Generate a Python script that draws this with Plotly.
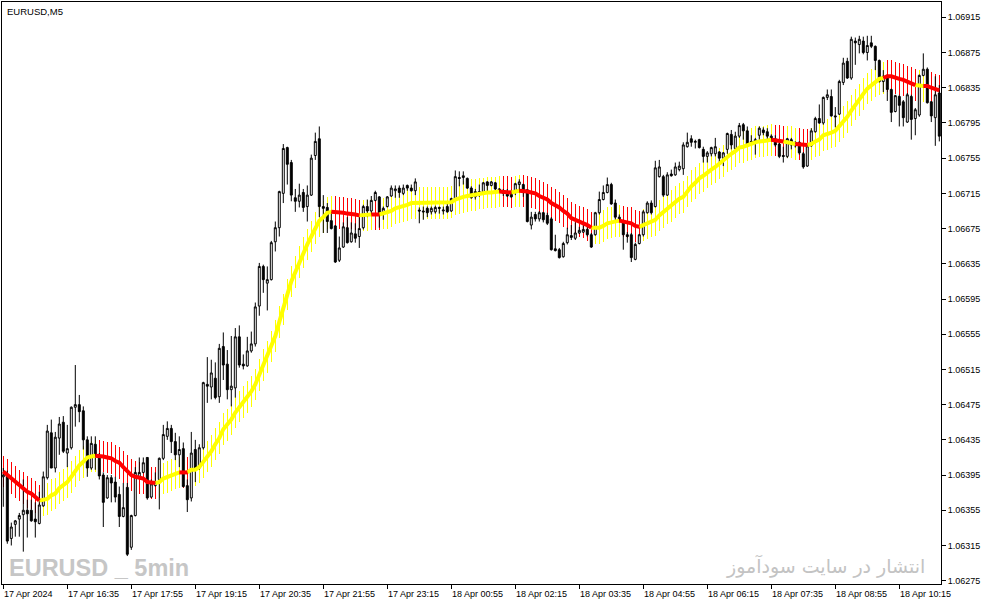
import plotly.graph_objects as go

# ---------------- data ----------------
time_labels = ["17 Apr 2024", "17 Apr 16:35", "17 Apr 17:55", "17 Apr 19:15", "17 Apr 20:35",
               "17 Apr 21:55", "17 Apr 23:15", "18 Apr 00:55", "18 Apr 02:15", "18 Apr 03:35",
               "18 Apr 04:55", "18 Apr 06:15", "18 Apr 07:35", "18 Apr 08:55", "18 Apr 10:15"]
label_bars = [0, 16, 32, 48, 64, 80, 96, 112, 128, 144, 160, 176, 192, 208, 224]

price_ticks = [1.06275, 1.06315, 1.06355, 1.06395, 1.06435, 1.06475, 1.06515, 1.06555, 1.06595,
               1.06635, 1.06675, 1.06715, 1.06755, 1.06795, 1.06835, 1.06875, 1.06915]

opens = [
    1.06393, 1.06395, 1.06323, 1.06339, 1.06345, 1.06350, 1.06355, 1.06355, 1.06345, 1.06340,
    1.06360, 1.06392, 1.06443, 1.06403, 1.06437, 1.06455, 1.06420, 1.06426, 1.06472, 1.06475,
    1.06468, 1.06435, 1.06403, 1.06430, 1.06416, 1.06395, 1.06369, 1.06392, 1.06387, 1.06373,
    1.06348, 1.06381, 1.06313, 1.06349, 1.06393, 1.06398, 1.06415, 1.06370, 1.06383, 1.06390,
    1.06414, 1.06439, 1.06448, 1.06433, 1.06418, 1.06425, 1.06383, 1.06369, 1.06424, 1.06403,
    1.06426, 1.06498, 1.06495, 1.06505, 1.06484, 1.06541, 1.06521, 1.06492, 1.06494, 1.06552,
    1.06521, 1.06519, 1.06536, 1.06544, 1.06587, 1.06632, 1.06613, 1.06617, 1.06660, 1.06676,
    1.06715, 1.06767, 1.06750, 1.06710, 1.06706, 1.06716, 1.06700, 1.06713, 1.06758, 1.06777,
    1.06700, 1.06699, 1.06684, 1.06678, 1.06639, 1.06654, 1.06676, 1.06660, 1.06669, 1.06666,
    1.06676, 1.06700, 1.06695, 1.06707, 1.06711, 1.06693, 1.06700, 1.06712, 1.06718, 1.06721,
    1.06715, 1.06724, 1.06721, 1.06718, 1.06696, 1.06695, 1.06698, 1.06694, 1.06694, 1.06699,
    1.06695, 1.06700, 1.06695, 1.06709, 1.06733, 1.06733, 1.06732, 1.06721, 1.06711, 1.06715,
    1.06716, 1.06728, 1.06724, 1.06727, 1.06720, 1.06715, 1.06717, 1.06717, 1.06716, 1.06725,
    1.06725, 1.06719, 1.06679, 1.06691, 1.06686, 1.06693, 1.06690, 1.06686, 1.06652, 1.06651,
    1.06643, 1.06659, 1.06667, 1.06664, 1.06670, 1.06671, 1.06674, 1.06668, 1.06668, 1.06693,
    1.06708, 1.06716, 1.06725, 1.06704, 1.06688, 1.06683, 1.06668, 1.06668, 1.06640, 1.06658,
    1.06668, 1.06693, 1.06704, 1.06700, 1.06734, 1.06734, 1.06713, 1.06737, 1.06736, 1.06742,
    1.06743, 1.06768, 1.06777, 1.06773, 1.06776, 1.06765, 1.06757, 1.06760, 1.06760, 1.06762,
    1.06755, 1.06765, 1.06782, 1.06766, 1.06780, 1.06793, 1.06786, 1.06774, 1.06773, 1.06781,
    1.06787, 1.06785, 1.06780, 1.06777, 1.06771, 1.06758, 1.06757, 1.06776, 1.06769, 1.06773,
    1.06760, 1.06746, 1.06769, 1.06785, 1.06800, 1.06795, 1.06824, 1.06825, 1.06803, 1.06805,
    1.06841, 1.06865, 1.06846, 1.06888, 1.06884, 1.06888, 1.06875, 1.06886, 1.06882, 1.06866,
    1.06842, 1.06849, 1.06833, 1.06808, 1.06825, 1.06819, 1.06796, 1.06825, 1.06800, 1.06804,
    1.06849, 1.06856, 1.06819, 1.06801, 1.06829]

highs = [
    1.06403, 1.06400, 1.06341, 1.06344, 1.06352, 1.06390, 1.06367, 1.06367, 1.06364, 1.06376,
    1.06399, 1.06452, 1.06458, 1.06444, 1.06461, 1.06462, 1.06452, 1.06473, 1.06520, 1.06486,
    1.06473, 1.06439, 1.06439, 1.06439, 1.06420, 1.06398, 1.06395, 1.06395, 1.06393, 1.06382,
    1.06386, 1.06386, 1.06350, 1.06404, 1.06415, 1.06415, 1.06415, 1.06390, 1.06398, 1.06415,
    1.06452, 1.06456, 1.06452, 1.06443, 1.06439, 1.06432, 1.06390, 1.06444, 1.06435, 1.06430,
    1.06501, 1.06529, 1.06526, 1.06523, 1.06544, 1.06557, 1.06537, 1.06553, 1.06562, 1.06565,
    1.06532, 1.06552, 1.06558, 1.06591, 1.06636, 1.06634, 1.06632, 1.06661, 1.06683, 1.06718,
    1.06771, 1.06768, 1.06753, 1.06720, 1.06726, 1.06720, 1.06724, 1.06759, 1.06784, 1.06791,
    1.06713, 1.06704, 1.06694, 1.06679, 1.06666, 1.06682, 1.06688, 1.06682, 1.06681, 1.06688,
    1.06702, 1.06708, 1.06712, 1.06718, 1.06712, 1.06700, 1.06712, 1.06724, 1.06724, 1.06724,
    1.06725, 1.06725, 1.06725, 1.06732, 1.06699, 1.06700, 1.06700, 1.06700, 1.06701, 1.06700,
    1.06700, 1.06704, 1.06710, 1.06741, 1.06740, 1.06740, 1.06733, 1.06723, 1.06720, 1.06725,
    1.06728, 1.06729, 1.06729, 1.06728, 1.06721, 1.06720, 1.06720, 1.06719, 1.06727, 1.06731,
    1.06726, 1.06720, 1.06694, 1.06694, 1.06695, 1.06694, 1.06693, 1.06688, 1.06668, 1.06653,
    1.06660, 1.06676, 1.06679, 1.06682, 1.06677, 1.06679, 1.06677, 1.06670, 1.06694, 1.06717,
    1.06724, 1.06733, 1.06727, 1.06708, 1.06691, 1.06685, 1.06671, 1.06670, 1.06659, 1.06669,
    1.06696, 1.06706, 1.06707, 1.06752, 1.06753, 1.06736, 1.06739, 1.06742, 1.06750, 1.06751,
    1.06773, 1.06784, 1.06781, 1.06776, 1.06777, 1.06768, 1.06763, 1.06768, 1.06778, 1.06763,
    1.06762, 1.06784, 1.06787, 1.06785, 1.06795, 1.06795, 1.06791, 1.06781, 1.06778, 1.06791,
    1.06790, 1.06789, 1.06782, 1.06781, 1.06774, 1.06768, 1.06778, 1.06778, 1.06774, 1.06774,
    1.06762, 1.06770, 1.06789, 1.06802, 1.06816, 1.06825, 1.06833, 1.06833, 1.06813, 1.06844,
    1.06869, 1.06869, 1.06893, 1.06892, 1.06894, 1.06893, 1.06894, 1.06894, 1.06883, 1.06867,
    1.06855, 1.06850, 1.06834, 1.06827, 1.06827, 1.06821, 1.06829, 1.06827, 1.06812, 1.06850,
    1.06874, 1.06858, 1.06820, 1.06848, 1.06838]

lows = [
    1.06359, 1.06317, 1.06315, 1.06325, 1.06325, 1.06308, 1.06324, 1.06342, 1.06324, 1.06339,
    1.06359, 1.06390, 1.06403, 1.06398, 1.06418, 1.06420, 1.06404, 1.06424, 1.06450, 1.06455,
    1.06424, 1.06393, 1.06401, 1.06401, 1.06390, 1.06336, 1.06368, 1.06364, 1.06364, 1.06336,
    1.06347, 1.06303, 1.06310, 1.06348, 1.06392, 1.06397, 1.06367, 1.06369, 1.06382, 1.06356,
    1.06412, 1.06435, 1.06420, 1.06412, 1.06404, 1.06381, 1.06353, 1.06365, 1.06387, 1.06401,
    1.06424, 1.06477, 1.06481, 1.06481, 1.06477, 1.06503, 1.06481, 1.06473, 1.06483, 1.06517,
    1.06515, 1.06518, 1.06534, 1.06541, 1.06576, 1.06602, 1.06582, 1.06616, 1.06649, 1.06666,
    1.06704, 1.06725, 1.06706, 1.06694, 1.06699, 1.06694, 1.06683, 1.06712, 1.06753, 1.06688,
    1.06670, 1.06670, 1.06674, 1.06636, 1.06637, 1.06653, 1.06658, 1.06659, 1.06659, 1.06653,
    1.06674, 1.06688, 1.06691, 1.06706, 1.06676, 1.06685, 1.06699, 1.06711, 1.06710, 1.06710,
    1.06713, 1.06718, 1.06717, 1.06713, 1.06681, 1.06685, 1.06688, 1.06691, 1.06692, 1.06692,
    1.06691, 1.06693, 1.06694, 1.06708, 1.06723, 1.06725, 1.06720, 1.06709, 1.06708, 1.06711,
    1.06715, 1.06716, 1.06723, 1.06716, 1.06716, 1.06712, 1.06711, 1.06710, 1.06713, 1.06716,
    1.06711, 1.06682, 1.06674, 1.06683, 1.06683, 1.06682, 1.06679, 1.06650, 1.06649, 1.06641,
    1.06642, 1.06657, 1.06662, 1.06662, 1.06669, 1.06670, 1.06666, 1.06653, 1.06667, 1.06691,
    1.06707, 1.06715, 1.06702, 1.06685, 1.06682, 1.06651, 1.06659, 1.06637, 1.06639, 1.06657,
    1.06666, 1.06692, 1.06691, 1.06699, 1.06733, 1.06711, 1.06712, 1.06734, 1.06735, 1.06740,
    1.06736, 1.06767, 1.06768, 1.06766, 1.06766, 1.06750, 1.06750, 1.06757, 1.06757, 1.06748,
    1.06746, 1.06760, 1.06765, 1.06763, 1.06778, 1.06776, 1.06768, 1.06770, 1.06759, 1.06776,
    1.06781, 1.06776, 1.06774, 1.06768, 1.06755, 1.06750, 1.06755, 1.06765, 1.06767, 1.06759,
    1.06743, 1.06745, 1.06768, 1.06784, 1.06794, 1.06793, 1.06821, 1.06802, 1.06790, 1.06804,
    1.06838, 1.06845, 1.06844, 1.06861, 1.06874, 1.06873, 1.06866, 1.06880, 1.06855, 1.06841,
    1.06830, 1.06820, 1.06796, 1.06807, 1.06791, 1.06791, 1.06795, 1.06776, 1.06781, 1.06802,
    1.06848, 1.06817, 1.06796, 1.06769, 1.06774]

closes = [
    1.06395, 1.06320, 1.06336, 1.06343, 1.06349, 1.06355, 1.06351, 1.06343, 1.06342, 1.06361,
    1.06393, 1.06445, 1.06403, 1.06438, 1.06453, 1.06422, 1.06425, 1.06472, 1.06475, 1.06467,
    1.06435, 1.06403, 1.06431, 1.06416, 1.06394, 1.06364, 1.06392, 1.06386, 1.06370, 1.06348,
    1.06358, 1.06305, 1.06349, 1.06398, 1.06398, 1.06409, 1.06369, 1.06385, 1.06387, 1.06414,
    1.06441, 1.06448, 1.06433, 1.06418, 1.06424, 1.06382, 1.06367, 1.06420, 1.06403, 1.06426,
    1.06500, 1.06496, 1.06511, 1.06483, 1.06539, 1.06520, 1.06492, 1.06496, 1.06552, 1.06520,
    1.06519, 1.06536, 1.06544, 1.06586, 1.06632, 1.06617, 1.06617, 1.06659, 1.06676, 1.06717,
    1.06766, 1.06748, 1.06713, 1.06706, 1.06713, 1.06699, 1.06713, 1.06755, 1.06774, 1.06700,
    1.06698, 1.06683, 1.06675, 1.06637, 1.06653, 1.06677, 1.06659, 1.06670, 1.06664, 1.06675,
    1.06700, 1.06695, 1.06707, 1.06716, 1.06693, 1.06698, 1.06711, 1.06721, 1.06720, 1.06716,
    1.06721, 1.06721, 1.06718, 1.06728, 1.06695, 1.06694, 1.06693, 1.06698, 1.06699, 1.06698,
    1.06696, 1.06694, 1.06709, 1.06734, 1.06732, 1.06735, 1.06721, 1.06710, 1.06717, 1.06717,
    1.06727, 1.06724, 1.06728, 1.06720, 1.06718, 1.06717, 1.06712, 1.06711, 1.06726, 1.06728,
    1.06717, 1.06683, 1.06688, 1.06686, 1.06693, 1.06685, 1.06681, 1.06651, 1.06650, 1.06642,
    1.06658, 1.06668, 1.06665, 1.06670, 1.06673, 1.06674, 1.06668, 1.06654, 1.06693, 1.06708,
    1.06716, 1.06725, 1.06703, 1.06688, 1.06683, 1.06668, 1.06666, 1.06642, 1.06657, 1.06668,
    1.06694, 1.06704, 1.06693, 1.06744, 1.06745, 1.06713, 1.06736, 1.06735, 1.06745, 1.06746,
    1.06770, 1.06773, 1.06773, 1.06774, 1.06767, 1.06757, 1.06761, 1.06767, 1.06768, 1.06755,
    1.06761, 1.06783, 1.06770, 1.06780, 1.06792, 1.06786, 1.06770, 1.06773, 1.06776, 1.06789,
    1.06784, 1.06780, 1.06775, 1.06770, 1.06757, 1.06757, 1.06777, 1.06770, 1.06773, 1.06761,
    1.06745, 1.06769, 1.06786, 1.06800, 1.06795, 1.06824, 1.06827, 1.06803, 1.06802, 1.06842,
    1.06863, 1.06846, 1.06890, 1.06886, 1.06890, 1.06875, 1.06883, 1.06882, 1.06866, 1.06842,
    1.06848, 1.06833, 1.06807, 1.06826, 1.06815, 1.06801, 1.06827, 1.06799, 1.06810, 1.06849,
    1.06856, 1.06818, 1.06803, 1.06827, 1.06780]

# trend-coloured moving average (thick line)
ma_line = [
    1.06399, 1.06395, 1.06392, 1.06387, 1.06383, 1.06380, 1.06376, 1.06374, 1.06370, 1.06366,
    1.06367, 1.06368, 1.06372, 1.06374, 1.06380, 1.06384, 1.06387, 1.06393, 1.06399, 1.06406,
    1.06410, 1.06415, 1.06416, 1.06417, 1.06417, 1.06416, 1.06415, 1.06414, 1.06411, 1.06409,
    1.06404, 1.06400, 1.06395, 1.06393, 1.06392, 1.06391, 1.06387, 1.06386, 1.06386, 1.06387,
    1.06391, 1.06393, 1.06395, 1.06397, 1.06398, 1.06398, 1.06398, 1.06401, 1.06401, 1.06404,
    1.06410, 1.06416, 1.06422, 1.06430, 1.06437, 1.06447, 1.06452, 1.06458, 1.06466, 1.06473,
    1.06478, 1.06484, 1.06490, 1.06498, 1.06509, 1.06520, 1.06529, 1.06541, 1.06553, 1.06569,
    1.06583, 1.06600, 1.06615, 1.06626, 1.06637, 1.06648, 1.06657, 1.06666, 1.06676, 1.06684,
    1.06688, 1.06693, 1.06694, 1.06694, 1.06693, 1.06693, 1.06692, 1.06692, 1.06691, 1.06690,
    1.06690, 1.06690, 1.06691, 1.06691, 1.06691, 1.06692, 1.06693, 1.06695, 1.06698, 1.06699,
    1.06700, 1.06702, 1.06704, 1.06704, 1.06704, 1.06704, 1.06704, 1.06704, 1.06704, 1.06704,
    1.06704, 1.06704, 1.06705, 1.06708, 1.06710, 1.06711, 1.06712, 1.06713, 1.06713, 1.06715,
    1.06715, 1.06716, 1.06716, 1.06716, 1.06717, 1.06717, 1.06717, 1.06716, 1.06717, 1.06718,
    1.06718, 1.06717, 1.06716, 1.06715, 1.06712, 1.06710, 1.06708, 1.06704, 1.06702, 1.06699,
    1.06695, 1.06692, 1.06687, 1.06685, 1.06683, 1.06682, 1.06679, 1.06676, 1.06676, 1.06676,
    1.06678, 1.06681, 1.06682, 1.06683, 1.06684, 1.06683, 1.06682, 1.06681, 1.06678, 1.06677,
    1.06679, 1.06681, 1.06683, 1.06685, 1.06690, 1.06694, 1.06698, 1.06701, 1.06705, 1.06709,
    1.06711, 1.06717, 1.06723, 1.06727, 1.06732, 1.06735, 1.06739, 1.06742, 1.06745, 1.06749,
    1.06752, 1.06757, 1.06760, 1.06763, 1.06767, 1.06768, 1.06770, 1.06771, 1.06773, 1.06774,
    1.06774, 1.06775, 1.06776, 1.06775, 1.06775, 1.06774, 1.06773, 1.06773, 1.06771, 1.06771,
    1.06770, 1.06770, 1.06771, 1.06774, 1.06776, 1.06781, 1.06782, 1.06784, 1.06786, 1.06791,
    1.06796, 1.06802, 1.06809, 1.06816, 1.06821, 1.06828, 1.06834, 1.06838, 1.06842, 1.06845,
    1.06846, 1.06848, 1.06848, 1.06846, 1.06845, 1.06844, 1.06842, 1.06841, 1.06838, 1.06837,
    1.06837, 1.06837, 1.06835, 1.06833, 1.06832]

# trend state of the indicator: runs of (colour, number of bars); Y = up (yellow), R = down (red)
trend_runs = [("R", 10), ("Y", 14), ("R", 15), ("Y", 6), ("R", 2), ("Y", 36), ("R", 7), ("Y", 3),
              ("R", 2), ("Y", 30), ("R", 3), ("Y", 2), ("R", 18), ("Y", 7), ("R", 5), ("Y", 33),
              ("R", 3), ("Y", 3), ("R", 3), ("Y", 19), ("R", 8), ("Y", 2), ("R", 4)]
band_half = 0.00018   # half-length of the thin indicator lines

# ---------------- figure ----------------
n = len(opens)
x = list(range(n))
trend = []
for c, k in trend_runs:
    trend += [c] * k
trend = (trend + [trend[-1]] * n)[:n]
COL = {"Y": "#FFFF00", "R": "#FF0000"}

fig = go.Figure()

# thin vertical indicator lines (1 px)
fig.add_trace(go.Bar(
    x=x, y=[2 * band_half] * n, base=[m - band_half for m in ma_line],
    width=0.1, marker=dict(color=[COL[t] for t in trend], line=dict(width=0)),
    hoverinfo="skip", showlegend=False))

fig.add_trace(go.Candlestick(
    x=x, open=opens, high=highs, low=lows, close=closes,
    increasing=dict(line=dict(color="black", width=1), fillcolor="white"),
    decreasing=dict(line=dict(color="black", width=1), fillcolor="black"),
    whiskerwidth=0, showlegend=False, hoverinfo="skip"))

for c in ("Y", "R"):
    ys = [ma_line[j] if (trend[j] == c or (j + 1 < n and trend[j + 1] == c)) else None
          for j in range(n)]
    fig.add_trace(go.Scatter(x=x, y=ys, mode="lines", line=dict(color=COL[c], width=4),
                             connectgaps=False, hoverinfo="skip", showlegend=False))

FONT = "Liberation Sans, Arial, sans-serif"
ann = []
for b, lab in zip(label_bars, time_labels):
    ann.append(dict(x=b, xref="x", y=0, yref="paper", yanchor="top", xanchor="left",
                    yshift=-3, xshift=-1, text=lab, showarrow=False,
                    font=dict(family=FONT, size=9, color="black")))
ann.append(dict(x=0, xref="paper", y=1, yref="paper", xanchor="left", yanchor="top",
                xshift=3, yshift=-2, text="EURUSD,M5", showarrow=False,
                font=dict(family=FONT, size=9.5, color="black")))
ann.append(dict(x=0, xref="paper", y=0, yref="paper", xanchor="left", yanchor="bottom",
                xshift=5, yshift=1, text="<b>EURUSD _ 5min</b>", showarrow=False,
                font=dict(family=FONT, size=23.5, color="#c6c6c6")))
ann.append(dict(x=1, xref="paper", y=0, yref="paper", xanchor="right", yanchor="bottom",
                xshift=-14, yshift=4, text="انتشار در سایت سودآموز", showarrow=False,
                font=dict(family="DejaVu Sans", size=19, color="#c3c3c3")))

fig.update_layout(
    width=987, height=605,
    margin=dict(l=2, r=46, t=2, b=21),
    paper_bgcolor="white", plot_bgcolor="white",
    showlegend=False, hovermode=False,
    bargap=0, annotations=ann,
    xaxis=dict(range=[-0.325, 234.425], tickmode="array", tickvals=label_bars,
               showticklabels=False, ticks="outside", ticklen=4, tickcolor="black",
               showgrid=False, zeroline=False, showline=True, linecolor="black",
               linewidth=1, mirror=True, rangeslider=dict(visible=False), fixedrange=True),
    yaxis=dict(range=[1.0627125, 1.0693238], side="right", tickmode="array",
               tickvals=price_ticks, ticktext=["%.5f" % p for p in price_ticks],
               ticks="outside", ticklen=4, tickcolor="black",
               tickfont=dict(family=FONT, size=9, color="black"),
               showgrid=False, zeroline=False, showline=True, linecolor="black",
               linewidth=1, mirror=True, fixedrange=True),
)

fig.write_html("out.html", config={"displayModeBar": False},
               post_script="document.body.style.margin='0';document.body.style.padding='0';"
                           "document.documentElement.style.overflow='hidden';")
